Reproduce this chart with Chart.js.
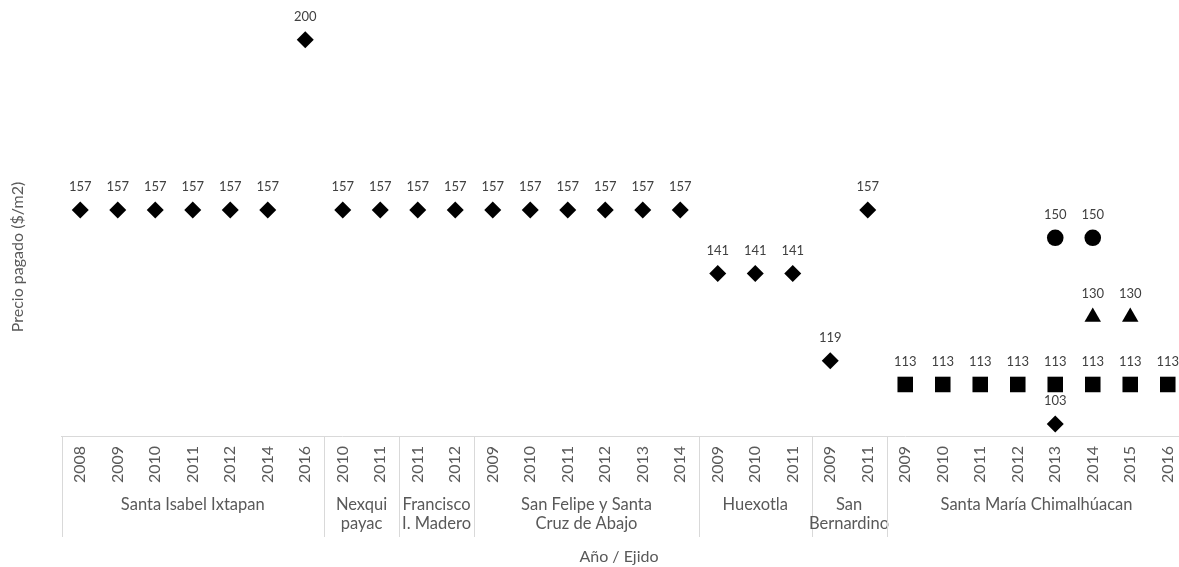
<!DOCTYPE html>
<html>
<head>
<meta charset="utf-8">
<script src="https://cdn.jsdelivr.net/npm/chart.js@4/dist/chart.umd.min.js"></script>
<style>
  html, body { margin: 0; padding: 0; overflow: hidden; background: #fff; width: 1179px; height: 567px; }
  #wrap { position: absolute; left: 0; top: 0; width: 1200px; height: 567px; }
</style>
</head>
<body>
<div id="wrap"><canvas id="c"></canvas></div>
<script>
// Year of each observation, grouped by ejido (in order)
const years = [
  '2008','2009','2010','2011','2012','2014','2016',
  '2010','2011',
  '2011','2012',
  '2009','2010','2011','2012','2013','2014',
  '2009','2010','2011',
  '2009','2011',
  '2009','2010','2011','2012','2013','2014','2015','2016'
];
const ejidoNames = [
  ['Santa Isabel Ixtapan'],
  ['Nexqui', 'payac'],
  ['Francisco', 'I. Madero'],
  ['San Felipe y Santa', 'Cruz de Abajo'],
  ['Huexotla'],
  ['San', 'Bernardino'],
  ['Santa María Chimalhúacan']
];
const ejidoSizes = [7, 2, 2, 6, 3, 2, 8];

// Price paid ($/m2) per marker type
const diamondValues = [157,157,157,157,157,157,200, 157,157, 157,157, 157,157,157,157,157,157,
                       141,141,141, 119,157, null,null,null,null,103,null,null,null];
const squareValues  = [null,null,null,null,null,null,null, null,null, null,null, null,null,null,null,null,null,
                       null,null,null, null,null, 113,113,113,113,113,113,113,113];
const circleValues  = [null,null,null,null,null,null,null, null,null, null,null, null,null,null,null,null,null,
                       null,null,null, null,null, null,null,null,null,150,150,null,null];
const triangleValues= [null,null,null,null,null,null,null, null,null, null,null, null,null,null,null,null,null,
                       null,null,null, null,null, null,null,null,null,null,130,130,null];

const FONT = 'Lato, "Open Sans", sans-serif';
const TEXT = '#595959';

const pointLabels = {
  id: 'pointLabels',
  afterDatasetsDraw(chart) {
    const ctx = chart.ctx;
    ctx.save();
    ctx.font = '13px ' + FONT;
    ctx.fillStyle = '#404040';
    ctx.textAlign = 'center';
    ctx.textBaseline = 'middle';
    chart.data.datasets.forEach((ds, i) => {
      chart.getDatasetMeta(i).data.forEach((pt, idx) => {
        const v = ds.data[idx];
        if (v === null || v === undefined) return;
        ctx.fillText(String(v), pt.x, pt.y - 23);
      });
    });
    ctx.restore();
  }
};

const groupAxis = {
  id: 'groupAxis',
  afterDraw(chart) {
    const ctx = chart.ctx;
    const xs = chart.scales.x;
    const area = chart.chartArea;
    const half = (xs.getPixelForValue(1) - xs.getPixelForValue(0)) / 2;
    ctx.save();
    ctx.strokeStyle = '#d9d9d9';
    ctx.lineWidth = 1;
    ctx.fillStyle = TEXT;
    ctx.font = '16.5px ' + FONT;
    ctx.textAlign = 'center';
    ctx.textBaseline = 'middle';
    let start = 0;
    ejidoSizes.forEach((n, g) => {
      const end = start + n - 1;
      const left = Math.round(xs.getPixelForValue(start) - half) + 0.5;
      ctx.beginPath();
      ctx.moveTo(left, area.bottom);
      ctx.lineTo(left, area.bottom + 101);
      ctx.stroke();
      const cx = (xs.getPixelForValue(start) + xs.getPixelForValue(end)) / 2;
      ejidoNames[g].forEach((line, k) => {
        ctx.fillText(line, cx, area.bottom + 69 + k * 19);
      });
      start = end + 1;
    });
    // axis titles
    ctx.font = '16px ' + FONT;
    ctx.fillText('Año / Ejido', 619, 557);
    ctx.translate(18, 257);
    ctx.rotate(-Math.PI / 2);
    ctx.fillText('Precio pagado ($/m2)', 0, 0);
    ctx.restore();
  }
};

const marker = (style, radius) => ({
  showLine: false,
  pointStyle: style,
  pointRadius: radius,
  pointHoverRadius: radius,
  pointBackgroundColor: '#000',
  pointBorderColor: '#000',
  pointBorderWidth: 0,
  clip: false
});

new Chart(document.getElementById('c'), {
  type: 'line',
  data: {
    labels: years,
    datasets: [
      Object.assign({ label: 'rombo', data: diamondValues }, marker('rectRot', 8.5)),
      Object.assign({ label: 'cuadro', data: squareValues }, marker('rect', 11)),
      Object.assign({ label: 'círculo', data: circleValues }, marker('circle', 8.3)),
      Object.assign({ label: 'triángulo', data: triangleValues }, marker('triangle', 9.5))
    ]
  },
  options: {
    responsive: true,
    maintainAspectRatio: false,
    animation: false,
    events: [],
    layout: { autoPadding: false, padding: { left: 61.5, right: 13.5, top: 0, bottom: 0 } },
    plugins: { legend: { display: false }, tooltip: { enabled: false } },
    scales: {
      x: {
        offset: true,
        grid: { display: false, drawTicks: false },
        border: { display: true, color: '#d9d9d9', width: 1 },
        ticks: {
          autoSkip: false,
          minRotation: 90,
          maxRotation: 90,
          padding: 10,
          color: TEXT,
          font: { family: FONT, size: 16 }
        },
        afterFit(scale) { scale.height = 131; }
      },
      y: {
        display: false,
        min: 100,
        max: 210
      }
    }
  },
  plugins: [pointLabels, groupAxis]
});
</script>
</body>
</html>
